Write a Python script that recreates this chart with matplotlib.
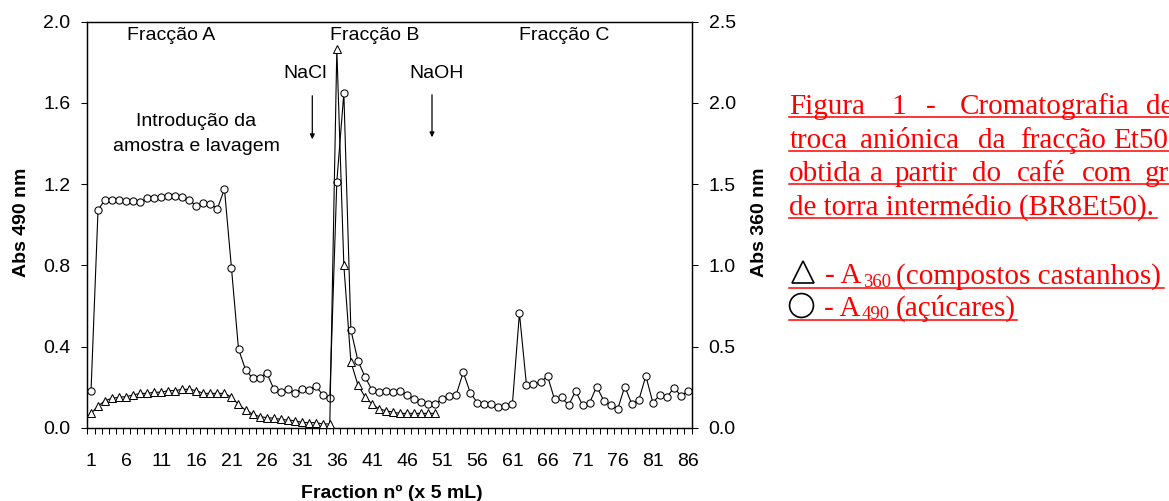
import numpy as np
import matplotlib
matplotlib.use("Agg")
import matplotlib.pyplot as plt
from matplotlib.lines import Line2D

# ---------------- data ----------------
fractions_a490 = list(range(1, 87))
a490 = [0.18, 1.074, 1.123, 1.123, 1.123, 1.118, 1.118, 1.112, 1.130, 1.131,
        1.136, 1.144, 1.144, 1.139, 1.120, 1.094, 1.107, 1.102, 1.080, 1.176,
        0.787, 0.389, 0.287, 0.245, 0.245, 0.273, 0.194, 0.176, 0.190, 0.171,
        0.194, 0.187, 0.207, 0.163, 0.149, 1.213, 1.649, 0.483, 0.332, 0.253,
        0.187, 0.176, 0.180, 0.175, 0.184, 0.163, 0.143, 0.126, 0.120, 0.120,
        0.141, 0.158, 0.164, 0.274, 0.174, 0.125, 0.118, 0.118, 0.105, 0.110,
        0.118, 0.565, 0.212, 0.217, 0.225, 0.256, 0.141, 0.151, 0.112, 0.182,
        0.112, 0.125, 0.204, 0.135, 0.112, 0.094, 0.204, 0.118, 0.138, 0.256,
        0.125, 0.163, 0.151, 0.199, 0.158, 0.182]

fractions_a360 = list(range(1, 51))
a360 = [0.09, 0.135, 0.168, 0.183, 0.189, 0.193, 0.203, 0.213, 0.213, 0.220,
        0.220, 0.230, 0.230, 0.238, 0.238, 0.230, 0.213, 0.213, 0.213, 0.213,
        0.190, 0.145, 0.110, 0.086, 0.070, 0.064, 0.060, 0.054, 0.049, 0.045,
        0.035, 0.033, 0.033, 0.025, 0.025, 2.330, 1.000, 0.408, 0.265, 0.193,
        0.148, 0.117, 0.107, 0.097, 0.090, 0.090, 0.090, 0.090, 0.090, 0.090]

xtick_labels = [str(v) for v in range(1, 87, 5)]
left_ticks = [0.0, 0.4, 0.8, 1.2, 1.6, 2.0]
right_ticks = [0.0, 0.5, 1.0, 1.5, 2.0, 2.5]

# ---------------- figure ----------------
W, H = 1169, 501
plt.rcParams['font.family'] = ['Liberation Sans', 'DejaVu Sans']
fig = plt.figure(figsize=(W / 100, H / 100), dpi=100)

def fx(x):
    return x / W

def fy(y):
    return 1 - y / H

ax_l, ax_r, ax_t, ax_b = 87.5, 691.5, 21.7, 428.0
ax = fig.add_axes([fx(ax_l), fy(ax_b), fx(ax_r) - fx(ax_l), fy(ax_t) - fy(ax_b)])
ax2 = ax.twinx()

ax.plot(fractions_a490, a490, color='black', lw=0.8, marker='o', ms=5.2,
        mfc='white', mec='black', mew=0.75, zorder=3)
ax2.plot(fractions_a360, a360, color='black', lw=0.8, marker='^', ms=5.2,
         mfc='white', mec='black', mew=0.75, zorder=3)

ax.set_xlim(0.5, 86.5)
ax.set_ylim(0, 2.0)
ax2.set_ylim(0, 2.5)

ax.set_xticks(list(range(1, 87, 5)))
ax.set_xticklabels(xtick_labels, fontsize=14)
ax.set_xticks(np.arange(0.5, 87, 1.0), minor=True)
ax.tick_params(axis='x', which='major', length=0, pad=18)
ax.tick_params(axis='x', which='minor', length=4.3, width=0.75, direction='out')

ax.set_yticks(left_ticks)
ax.set_yticklabels([f"{v:.1f}" for v in left_ticks], fontsize=14)
ax.tick_params(axis='y', which='major', length=4.3, width=0.75, pad=8, direction='out')
ax2.set_yticks(right_ticks)
ax2.set_yticklabels([f"{v:.1f}" for v in right_ticks], fontsize=14)
ax2.tick_params(axis='y', which='major', length=4.3, width=0.75, pad=8, direction='out')

for a in (ax, ax2):
    for s in a.spines.values():
        s.set_linewidth(0.9)
        s.set_color('black')

# axis labels
fig.text(fx(22), fy(222), "Abs 490 nm", rotation=90, ha='center', va='center',
         fontsize=14, fontweight='bold')
fig.text(fx(760), fy(222), "Abs 360 nm", rotation=90, ha='center', va='center',
         fontsize=14, fontweight='bold')
fig.text(fx(392), fy(497.5), "Fraction nº (x 5 mL)", ha='center', va='baseline',
         fontsize=14, fontweight='bold')

# annotations inside plot
fig.text(fx(171.5), fy(40), "Fracção A", ha='center', va='baseline', fontsize=14)
fig.text(fx(375), fy(40), "Fracção B", ha='center', va='baseline', fontsize=14)
fig.text(fx(564.5), fy(40), "Fracção C", ha='center', va='baseline', fontsize=14)
fig.text(fx(305), fy(77.7), "NaCl", ha='center', va='baseline', fontsize=14)
fig.text(fx(437), fy(77.7), "NaOH", ha='center', va='baseline', fontsize=14)
fig.text(fx(196.5), fy(126.5), "Introdução da", ha='center', va='baseline', fontsize=14)
fig.text(fx(196), fy(151), "amostra e lavagem", ha='center', va='baseline', fontsize=14)

for xa, y0, y1 in [(312.3, 93, 142), (432, 92, 140)]:
    fig.add_artist(matplotlib.patches.FancyArrowPatch(
        (fx(xa), fy(y0)), (fx(xa), fy(y1)), transform=fig.transFigure,
        arrowstyle='-|>', mutation_scale=7, color='black', lw=0.9))

# ---------------- red caption ----------------
serif = ['Liberation Serif', 'DejaVu Serif']
red = '#FF0000'
fs = 21

def word(x, y, s, size=fs):
    fig.text(fx(x), fy(y), s, ha='left', va='baseline', fontsize=size,
             family=serif, color=red)

def uline(x0, x1, y):
    fig.add_artist(Line2D([fx(x0), fx(x1)], [fy(y), fy(y)], transform=fig.transFigure,
                          color=red, lw=1.1))

line1 = [(789.3, "Figura"), (891.0, "1"), (926.0, "-"), (960.0, "Cromatografia"), (1146.0, "de")]
line2 = [(789.3, "troca"), (860.0, "aniónica"), (978.3, "da"), (1020.0, "fracção"), (1112.7, "Et50")]
line3 = [(789.3, "obtida"), (870.0, "a"), (895.0, "partir"), (971.7, "do"),
         (1016.7, "café"), (1081.7, "com"), (1145.0, "grau")]
for words, yb in [(line1, 114.0), (line2, 147.5), (line3, 181.0)]:
    for x, s in words:
        word(x, yb, s)
word(789.3, 215.0, "de torra intermédio (BR8Et50).")
uline(789, 1169, 117.0)
uline(789, 1169, 150.5)
uline(789, 1169, 184.0)
uline(789, 1157, 218.0)

# legend lines
fig.add_artist(Line2D([fx(803)], [fy(271.5)], transform=fig.transFigure, marker='^',
                      markersize=16.5, mfc='none', mec='black', mew=1.2, ls='none'))
fig.add_artist(Line2D([fx(801)], [fy(305)], transform=fig.transFigure, marker='o',
                      markersize=17.2, mfc='none', mec='black', mew=1.2, ls='none'))
word(825.0, 283.3, "- A")
word(863.5, 287.0, "360", size=13.5)
word(896.5, 283.3, "(compostos castanhos)")
word(823.5, 315.5, "- A")
word(861.5, 319.0, "490", size=13.5)
word(895.5, 315.5, "(açúcares)")
uline(789, 1164, 287.5)
uline(789, 1017, 319.5)

fig.savefig("out.png", dpi=100)
